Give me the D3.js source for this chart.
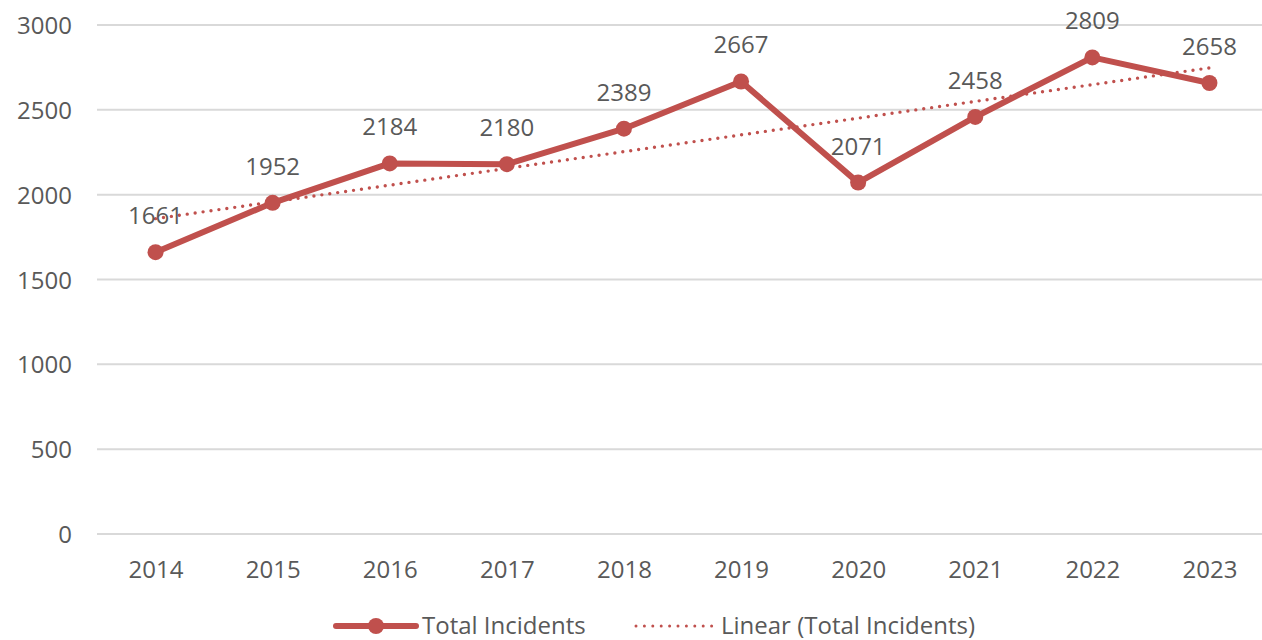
<!DOCTYPE html>
<html>
<head>
<meta charset="utf-8">
<script src="https://cdn.jsdelivr.net/npm/d3@7"></script>
<style>
html,body{margin:0;padding:0;background:#fff;}
svg{display:block;}
text{font-family:"Open Sans",sans-serif;fill:#595959;}
</style>
</head>
<body>
<svg id="chart" width="1262" height="640"></svg>
<script>
const years = ["2014","2015","2016","2017","2018","2019","2020","2021","2022","2023"];
const incidents = [1661,1952,2184,2180,2389,2667,2071,2458,2809,2658];
const yTicks = [0,500,1000,1500,2000,2500,3000];
const seriesName = "Total Incidents";
const trendName = "Linear (Total Incidents)";

const color = "#C0504D";
const svg = d3.select("#chart");
const x = d3.scalePoint().domain(years).range([97,1268]).padding(0.5);
const y = d3.scaleLinear().domain([0,3000]).range([534,25]);

// gridlines
svg.append("g").selectAll("line").data(yTicks).join("line")
  .attr("x1",97).attr("x2",1268)
  .attr("y1",d=>y(d)).attr("y2",d=>y(d))
  .attr("stroke","#d9d9d9").attr("stroke-width",2);

// y axis labels
const yAxis = d3.axisLeft(y).tickValues(yTicks).tickFormat(d3.format("d")).tickSize(0).tickPadding(0);
const yg = svg.append("g").attr("transform","translate(72,0)").call(yAxis);
yg.select(".domain").remove();
yg.selectAll("text").attr("font-size",24).style("font-family","'Open Sans',sans-serif").attr("fill","#595959").attr("dy","0.36em");

// x axis labels
const xAxis = d3.axisBottom(x).tickSize(0).tickPadding(0);
const xg = svg.append("g").attr("transform","translate(0,578)").call(xAxis);
xg.select(".domain").remove();
xg.selectAll("text").attr("font-size",24).style("font-family","'Open Sans',sans-serif").attr("fill","#595959").attr("dy",0);

// linear trend (least squares)
const n = incidents.length;
const xs = d3.range(n);
const mx = d3.mean(xs), my = d3.mean(incidents);
const slope = d3.sum(xs.map((v,i)=>(v-mx)*(incidents[i]-my))) / d3.sum(xs.map(v=>(v-mx)*(v-mx)));
const icpt = my - slope*mx;
const trend = [0,n-1].map(i=>({yr:years[i], v:icpt+slope*i}));
svg.append("path").datum(trend)
  .attr("d", d3.line().x(d=>x(d.yr)).y(d=>y(d.v)))
  .attr("fill","none").attr("stroke",color).attr("stroke-width",3.4)
  .attr("stroke-linecap","round").attr("stroke-dasharray","0,8");

// main line
const data = years.map((yr,i)=>({yr, v:incidents[i]}));
svg.append("path").datum(data)
  .attr("d", d3.line().x(d=>x(d.yr)).y(d=>y(d.v)))
  .attr("fill","none").attr("stroke",color).attr("stroke-width",6).attr("stroke-linejoin","round");
svg.append("g").selectAll("circle").data(data).join("circle")
  .attr("cx",d=>x(d.yr)).attr("cy",d=>y(d.v)).attr("r",8).attr("fill",color);

// data labels
svg.append("g").selectAll("text").data(data).join("text")
  .attr("x",d=>x(d.yr)).attr("y",d=>y(d.v)-28)
  .attr("text-anchor","middle").attr("font-size",24).text(d=>d.v);

// legend
const lg = svg.append("g");
lg.append("line").attr("x1",336).attr("x2",416).attr("y1",626).attr("y2",626)
  .attr("stroke",color).attr("stroke-width",6).attr("stroke-linecap","round");
lg.append("circle").attr("cx",376).attr("cy",626).attr("r",8).attr("fill",color);
lg.append("text").attr("x",422).attr("y",634).attr("font-size",24).text(seriesName);
lg.append("line").attr("x1",636).attr("x2",712).attr("y1",626).attr("y2",626)
  .attr("stroke",color).attr("stroke-width",3).attr("stroke-linecap","round").attr("stroke-dasharray","0,8.4");
lg.append("text").attr("x",721).attr("y",634).attr("font-size",24).text(trendName);
</script>
</body>
</html>
